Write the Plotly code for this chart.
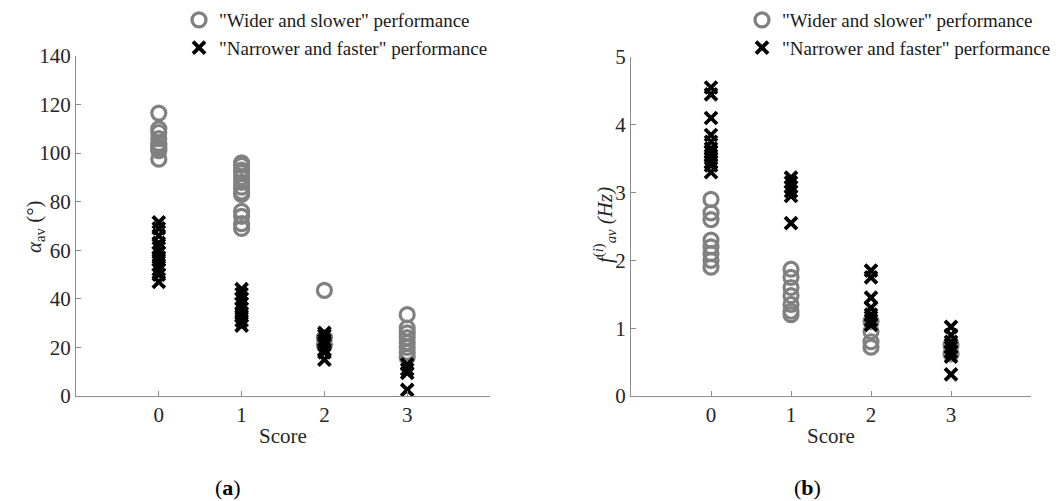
import plotly.graph_objects as go

# ---- data ----
# Panel (a): alpha_av (deg)
a_s0_wide = [116.5, 110, 108.5, 106, 104, 103, 102, 101, 97.5]
a_s0_narrow = [71.5, 69, 66, 63, 61, 59, 57, 56, 54, 52, 50, 47]
a_s1_wide = [96, 95, 93, 92, 90, 88, 86, 84, 83, 76, 74, 71, 69]
a_s1_narrow = [44, 42, 40, 38, 36, 34, 33, 31, 29]
a_s2_wide = [43.5, 24, 21]
a_s2_narrow = [26, 25, 23, 22, 21, 19, 18, 15]
a_s3_wide = [33.5, 28, 26, 24, 22, 20, 18, 16]
a_s3_narrow = [13, 11, 9.5, 2.5]

# Panel (b): f_av (Hz)
b_s0_wide = [2.9, 2.7, 2.6, 2.3, 2.2, 2.1, 2.0, 1.9]
b_s0_narrow = [4.55, 4.45, 4.1, 3.85, 3.75, 3.65, 3.6, 3.55, 3.5, 3.45, 3.4, 3.3]
b_s1_wide = [1.87, 1.75, 1.6, 1.48, 1.35, 1.25, 1.2]
b_s1_narrow = [3.22, 3.15, 3.08, 3.02, 2.95, 2.55]
b_s2_wide = [1.1, 0.95, 0.8, 0.72]
b_s2_narrow = [1.85, 1.75, 1.45, 1.3, 1.2, 1.12, 1.05]
b_s3_wide = [0.75, 0.62]
b_s3_narrow = [1.02, 0.9, 0.8, 0.72, 0.65, 0.58, 0.32]

scores = [0, 1, 2, 3]
x_ticks = [0, 1, 2, 3]
a_ticks = [0, 20, 40, 60, 80, 100, 120, 140]
b_ticks = [0, 1, 2, 3, 4, 5]

label_wide = '"Wider and slower" performance'
label_narrow = '"Narrower and faster" performance'
a_title = "<i>α</i><sub>av</sub> (°)"
b_title = "<i>f</i><sup>(<i>i</i>)</sup><sub><i>av</i></sub> <i>(Hz)</i>"

FONT = "'Liberation Serif', 'Times New Roman', 'DejaVu Serif', serif"
GREY = "#808080"
AXC = "#8c8c8c"
TXT = "#262626"

# the page body adds an 8px margin; figure is sized to fit the window
W, H = 1054, 493
OFF = 8

def fx(p):  # window pixel x -> paper fraction
    return (p - OFF) / W

def fy(p):  # window pixel y (from top) -> paper fraction
    return (H - (p - OFF)) / H

def flat(groups):
    xs, ys = [], []
    for s, g in zip(scores, groups):
        xs += [s] * len(g)
        ys += g
    return xs, ys

fig = go.Figure()

panels = [
    ("x", "y", "legend", [a_s0_wide, a_s1_wide, a_s2_wide, a_s3_wide],
     [a_s0_narrow, a_s1_narrow, a_s2_narrow, a_s3_narrow]),
    ("x2", "y2", "legend2", [b_s0_wide, b_s1_wide, b_s2_wide, b_s3_wide],
     [b_s0_narrow, b_s1_narrow, b_s2_narrow, b_s3_narrow]),
]

for xa, ya, lg, wide, narrow in panels:
    xw, yw = flat(wide)
    xn, yn = flat(narrow)
    fig.add_trace(go.Scatter(
        x=xw, y=yw, mode="markers", name=label_wide, xaxis=xa, yaxis=ya, legend=lg,
        marker=dict(symbol="circle-open", size=14, color=GREY, line=dict(width=3.2, color=GREY)),
    ))
    fig.add_trace(go.Scatter(
        x=xn, y=yn, mode="markers", name=label_narrow, xaxis=xa, yaxis=ya, legend=lg,
        marker=dict(symbol="x-thin-open", size=12, color="black", line=dict(width=3.8, color="black")),
    ))

xcommon = dict(range=[-1, 4], tickvals=x_ticks, ticks="inside", ticklen=5, tickcolor=AXC,
               showline=True, linecolor=AXC, linewidth=1, showgrid=False, zeroline=False,
               tickfont=dict(family=FONT, size=21, color=TXT),
               title=dict(text="Score", font=dict(family=FONT, size=21, color=TXT), standoff=2))
ycommon = dict(ticks="inside", ticklen=5, tickcolor=AXC, showline=True, linecolor=AXC, linewidth=1,
               showgrid=False, zeroline=False,
               tickfont=dict(family=FONT, size=21, color=TXT))

fig.update_layout(
    width=W, height=H, autosize=False,
    margin=dict(l=0, r=0, t=0, b=0, autoexpand=False),
    plot_bgcolor="white", paper_bgcolor="white",
    xaxis=dict(domain=[fx(76), fx(490)], anchor="y", **xcommon),
    yaxis=dict(domain=[fy(396), fy(56)], anchor="x", range=[0, 140], tickvals=a_ticks, **ycommon),
    xaxis2=dict(domain=[fx(631), fx(1031)], anchor="y2", **xcommon),
    yaxis2=dict(domain=[fy(396), fy(57)], anchor="x2", range=[0, 5], tickvals=b_ticks, **ycommon),
    legend=dict(x=fx(179), y=fy(1), xanchor="left", yanchor="top", bgcolor="rgba(0,0,0,0)",
                font=dict(family=FONT, size=19, color="#1a1a1a"), tracegroupgap=0, itemwidth=30),
    legend2=dict(x=fx(742), y=fy(1), xanchor="left", yanchor="top", bgcolor="rgba(0,0,0,0)",
                 font=dict(family=FONT, size=19, color="#1a1a1a"), tracegroupgap=0, itemwidth=30),
    annotations=[
        dict(text=a_title, x=fx(35), y=fy(227), xref="paper", yref="paper", showarrow=False,
             textangle=-90, xanchor="center", yanchor="middle",
             font=dict(family=FONT, size=21, color=TXT)),
        dict(text=b_title, x=fx(605), y=fy(225), xref="paper", yref="paper", showarrow=False,
             textangle=-90, xanchor="center", yanchor="middle",
             font=dict(family=FONT, size=21, color=TXT)),
        dict(text="(<b>a</b>)", x=fx(228), y=fy(487), xref="paper", yref="paper", showarrow=False,
             xanchor="center", yanchor="middle", font=dict(family=FONT, size=22, color="black")),
        dict(text="(<b>b</b>)", x=fx(807), y=fy(487), xref="paper", yref="paper", showarrow=False,
             xanchor="center", yanchor="middle", font=dict(family=FONT, size=22, color="black")),
    ],
)

fig.write_html("out.html")
